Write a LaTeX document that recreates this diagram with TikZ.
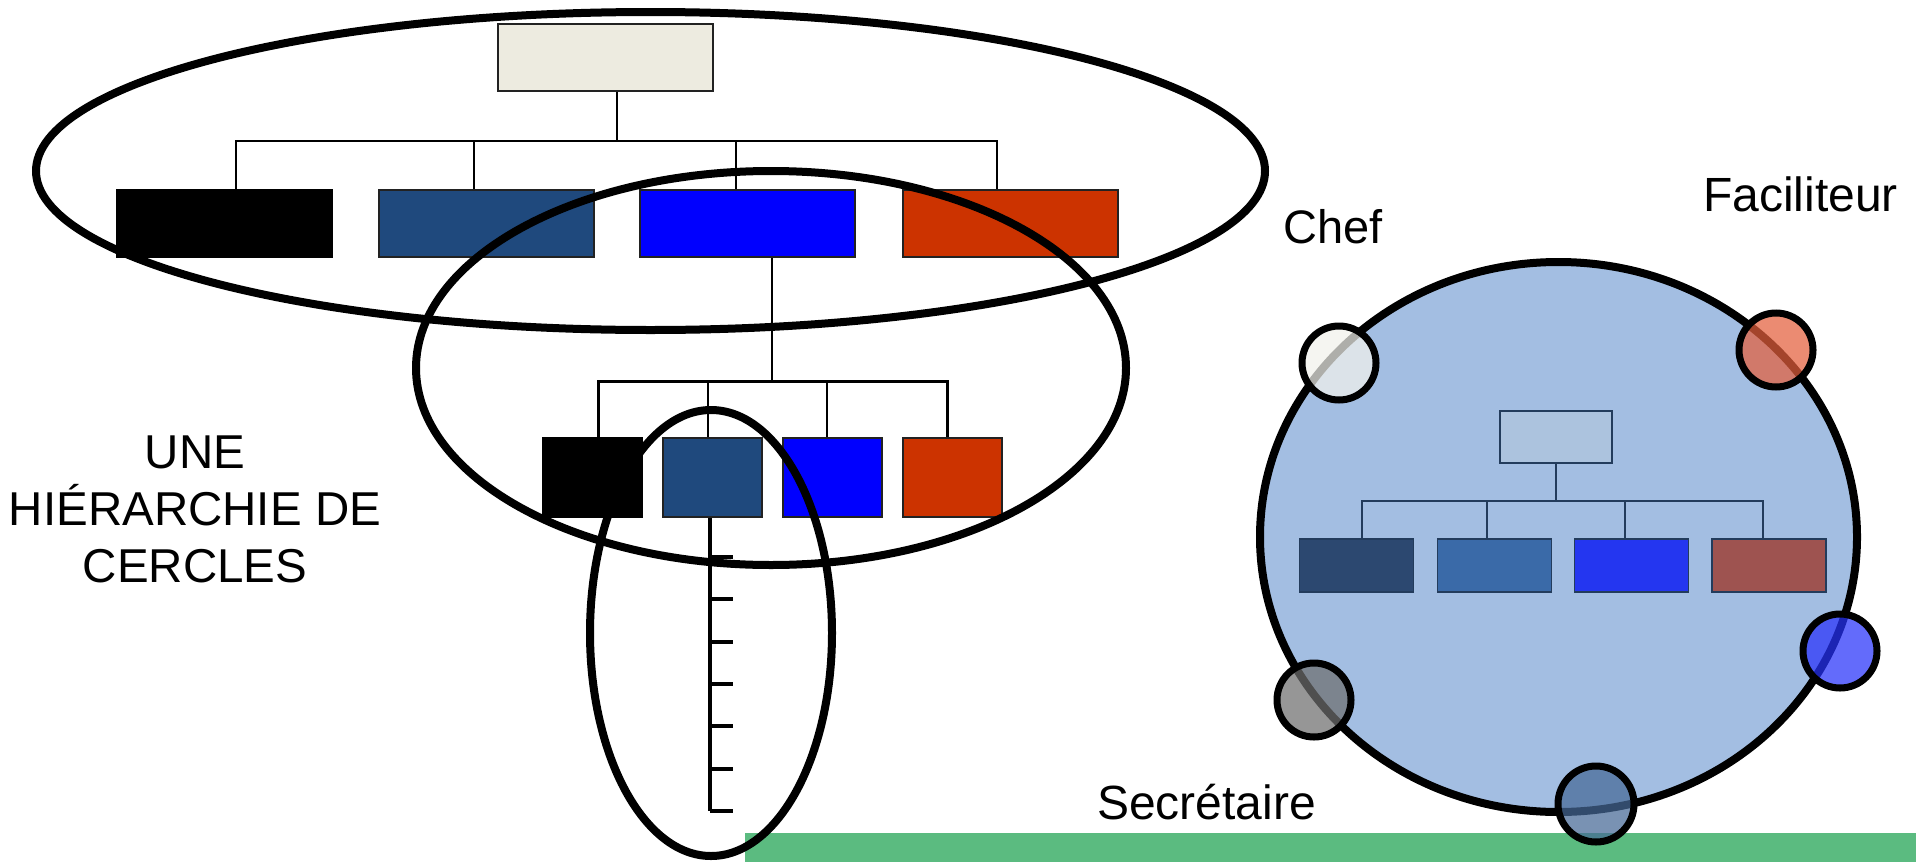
\documentclass[tikz,border=0pt]{standalone}
\usepackage{fontspec}
\setmainfont{Liberation Sans}
\definecolor{beige}{RGB}{237,235,224}
\definecolor{dkblue}{RGB}{31,73,125}
\definecolor{pureblue}{RGB}{0,0,255}
\definecolor{rust}{RGB}{204,51,0}
\definecolor{barGreen}{RGB}{91,187,128}
\definecolor{bordergray}{RGB}{34,34,34}
\definecolor{circFill}{RGB}{163,190,226}
\definecolor{rtTop}{RGB}{172,195,222}
\definecolor{rtLine}{RGB}{35,60,92}
\definecolor{rtA}{RGB}{44,72,112}
\definecolor{rtB}{RGB}{58,106,168}
\definecolor{rtC}{RGB}{36,54,240}
\definecolor{rtD}{RGB}{158,83,80}
\definecolor{smChef}{RGB}{242,242,236}
\definecolor{smFac}{RGB}{228,95,60}
\definecolor{smBlue}{RGB}{40,50,250}
\definecolor{smGray}{RGB}{110,110,110}
\definecolor{smBot}{RGB}{70,105,150}
\begin{document}
\begin{tikzpicture}[x=1pt,y=-1pt,
  ring/.style={draw=black,line width=8pt},
  conn/.style={draw=black,line width=2pt},
  bigbox/.style={draw=bordergray,line width=2pt,inner sep=0pt,minimum width=215pt,minimum height=67pt},
  smallbox/.style={draw=bordergray,line width=2pt,inner sep=0pt,minimum width=99pt,minimum height=79pt},
  rbox/.style={draw=rtLine,line width=1.5pt,inner sep=0pt,minimum width=114pt,minimum height=53pt},
  rconn/.style={draw=rtLine,line width=2pt},
  member/.style={draw=black,line width=7pt,fill opacity=0.72},
  lbl/.style={inner sep=0pt,text=black}]
\useasboundingbox (0,0) rectangle (1916,862);
\fill[white] (0,0) rectangle (1916,862);

% green bar
\fill[barGreen] (745,833) rectangle (1916,862);

% ---------- left hierarchy ----------
\node[bigbox,fill=beige] (top) at (605.5,57) {};
\node[bigbox,fill=black,draw=black] (a1) at (224.5,223.5) {};
\node[bigbox,fill=dkblue] (a2) at (486,223.5) {};
\node[bigbox,fill=pureblue] (a3) at (747.5,223.5) {};
\node[bigbox,fill=rust] (a4) at (1010,223.5) {};

\coordinate (bus1) at (617,141);
\coordinate (v1) at (236,141);
\coordinate (v2) at (474,141);
\coordinate (v3) at (736,141);
\coordinate (v4) at (997,141);
\draw[conn] (bus1 |- top.south) -- (bus1);
\draw[conn] (v1 |- a1.north) -- (v1) -- (v4) -- (v4 |- a4.north);
\draw[conn] (v2) -- (v2 |- a2.north);
\draw[conn] (v3) -- (v3 |- a3.north);

\node[smallbox,fill=black,draw=black] (b1) at (592,477.5) {};
\node[smallbox,fill=dkblue] (b2) at (712.5,477.5) {};
\node[smallbox,fill=pureblue] (b3) at (832.5,477.5) {};
\node[smallbox,fill=rust] (b4) at (952.5,477.5) {};

\coordinate (bus2) at (772,381);
\coordinate (w1) at (598,381);
\coordinate (w2) at (708,381);
\coordinate (w3) at (827,381);
\coordinate (w4) at (947,381);
\draw[conn] (bus2 |- a3.south) -- (bus2);
\draw[conn,line width=3pt] (w1 |- b1.north) -- (w1) -- (w4) -- (w4 |- b4.north);
\draw[conn] (w2) -- (w2 |- b2.north);
\draw[conn] (w3) -- (w3 |- b3.north);

% vertical scale under the second small box
\coordinate (sc) at (710,811);
\draw[conn,line width=3.5pt] (sc |- b2.south) -- (sc);
\foreach \ty in {557,599,642,684,726,769,811}{
  \draw[conn,line width=3.5pt] (710,\ty) -- (733,\ty);
}

% ellipses
\draw[ring] (650.5,171) ellipse [x radius=614.5, y radius=159];
\draw[ring] (771,368) ellipse [x radius=355, y radius=197];
\draw[ring] (711,633) ellipse [x radius=121, y radius=223];

% ---------- right circle ----------
\draw[ring,fill=circFill] (1558.5,537) ellipse [x radius=298.5, y radius=275];

\node[rbox,fill=rtTop,minimum width=112pt,minimum height=52pt] (rt) at (1556,437) {};
\node[rbox,fill=rtA] (r1) at (1356.5,565.5) {};
\node[rbox,fill=rtB] (r2) at (1494.5,565.5) {};
\node[rbox,fill=rtC] (r3) at (1631.5,565.5) {};
\node[rbox,fill=rtD] (r4) at (1769,565.5) {};
\coordinate (rbus) at (1556,501);
\coordinate (u1) at (1362,501);
\coordinate (u2) at (1487,501);
\coordinate (u3) at (1625,501);
\coordinate (u4) at (1763,501);
\draw[rconn] (rt.south) -- (rbus);
\draw[rconn] (u1 |- r1.north) -- (u1) -- (u4) -- (u4 |- r4.north);
\draw[rconn] (u2) -- (u2 |- r2.north);
\draw[rconn] (u3) -- (u3 |- r3.north);

% member circles
\draw[member,fill=smChef] (1339,363) circle [radius=37];
\draw[member,fill=smFac] (1776,350) circle [radius=37];
\draw[member,fill=smBlue] (1840,651) circle [radius=37];
\draw[member,fill=smGray] (1314,700) circle [radius=37];
\draw[member,fill=smBot] (1596,804) circle [radius=38];

% ---------- texts ----------
\node[lbl,anchor=base,align=center,font=\fontsize{47.5}{57}\selectfont] (title) at (195,582) {UNE\\HIÉRARCHIE DE\\CERCLES};
\node[lbl,anchor=base west,font=\fontsize{47}{56}\selectfont] (chef) at (1283,243) {Chef};
\node[lbl,anchor=base west,font=\fontsize{48}{56}\selectfont] (fac) at (1703,211) {Faciliteur};
\node[lbl,anchor=base west,font=\fontsize{48}{56}\selectfont] (sec) at (1097,819) {Secrétaire};
\end{tikzpicture}
\end{document}
